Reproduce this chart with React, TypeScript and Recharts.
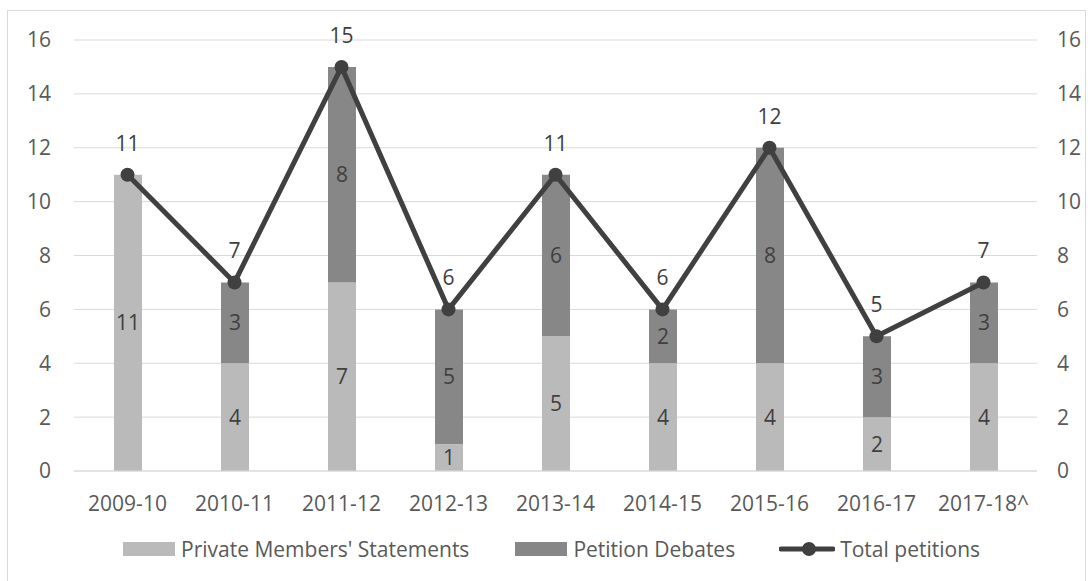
import {
  Bar,
  CartesianGrid,
  ComposedChart,
  LabelList,
  Legend,
  Line,
  XAxis,
  YAxis,
} from 'recharts';

const sessions = [
  '2009-10',
  '2010-11',
  '2011-12',
  '2012-13',
  '2013-14',
  '2014-15',
  '2015-16',
  '2016-17',
  '2017-18^',
];
const memberStatements = [11, 4, 7, 1, 5, 4, 4, 2, 4];
const petitionDebates = [0, 3, 8, 5, 6, 2, 8, 3, 3];
const totalPetitions = [11, 7, 15, 6, 11, 6, 12, 5, 7];
const yTicks = [0, 2, 4, 6, 8, 10, 12, 14, 16];

const data = sessions.map((session, i) => ({
  session,
  pms: memberStatements[i],
  debates: petitionDebates[i],
  total: totalPetitions[i],
}));

const FONT = '"Open Sans", sans-serif';
const SIZE = 21;
const TEXT = '#595959';
const LIGHT = '#bababa';
const DARK = '#878787';
const LINE = '#404040';

const tickStyle = { fill: TEXT, fontSize: SIZE, fontFamily: FONT };

const hideZero = (v: any) => (v ? v : '');

const ChartLegend = () => (
  <div
    style={{
      display: 'flex',
      alignItems: 'center',
      paddingLeft: 123,
      fontFamily: FONT,
      fontSize: SIZE,
      color: TEXT,
      whiteSpace: 'nowrap',
    }}
  >
    <span style={{ width: 52, height: 14, background: LIGHT, marginRight: 6 }} />
    <span style={{ marginRight: 46 }}>Private Members' Statements</span>
    <span style={{ width: 52, height: 14, background: DARK, marginRight: 6 }} />
    <span style={{ marginRight: 44 }}>Petition Debates</span>
    <svg width={56} height={16} style={{ marginRight: 5 }}>
      <line x1={2} y1={8} x2={54} y2={8} stroke={LINE} strokeWidth={5} strokeLinecap='round' />
      <circle cx={30} cy={8} r={7} fill={LINE} />
    </svg>
    <span>Total petitions</span>
  </div>
);

export default function App() {
  return (
    <div style={{ position: 'absolute', left: 0, top: 0, width: 1088, height: 581, overflow: 'hidden', background: '#fff' }}>
      <div
        style={{
          position: 'absolute',
          left: 7,
          top: 10,
          width: 1077,
          height: 620,
          border: '1px solid #d9d9d9',
        }}
      />
      <ComposedChart
        width={1088}
        height={581}
        data={data}
        margin={{ top: 40, right: 11, bottom: 80, left: 14 }}
        barSize={28}
      >
        <CartesianGrid yAxisId='left' vertical={false} stroke='#d9d9d9' />
        <XAxis
          dataKey='session'
          height={30}
          tickLine={false}
          axisLine={{ stroke: '#d9d9d9' }}
          tickMargin={19}
          tick={tickStyle}
          interval={0}
        />
        <YAxis
          yAxisId='left'
          width={60}
          domain={[0, 16]}
          ticks={yTicks}
          tickLine={false}
          axisLine={false}
          tickMargin={17}
          tick={tickStyle}
        />
        <YAxis
          yAxisId='right'
          orientation='right'
          width={40}
          domain={[0, 16]}
          ticks={yTicks}
          tickLine={false}
          axisLine={false}
          tickMargin={14}
          tick={tickStyle}
        />
        <Bar yAxisId='left' dataKey='pms' stackId='a' fill={LIGHT} isAnimationActive={false}>
          <LabelList dataKey='pms' position='center' fill={LINE} fontSize={SIZE} fontFamily={FONT} formatter={hideZero} />
        </Bar>
        <Bar yAxisId='left' dataKey='debates' stackId='a' fill={DARK} isAnimationActive={false}>
          <LabelList dataKey='debates' position='center' fill={LINE} fontSize={SIZE} fontFamily={FONT} formatter={hideZero} />
        </Bar>
        <Line
          yAxisId='right'
          dataKey='total'
          stroke={LINE}
          strokeWidth={5}
          dot={{ r: 7, fill: LINE, stroke: LINE, strokeWidth: 0 }}
          activeDot={false}
          isAnimationActive={false}
        >
          <LabelList dataKey='total' position='top' offset={24} fill={LINE} fontSize={SIZE} fontFamily={FONT} />
        </Line>
        <Legend
          verticalAlign='middle'
          align='center'
          layout='horizontal'
          wrapperStyle={{ top: 535, left: 0, width: 1088 }}
          content={() => <ChartLegend />}
        />
      </ComposedChart>
    </div>
  );
}
